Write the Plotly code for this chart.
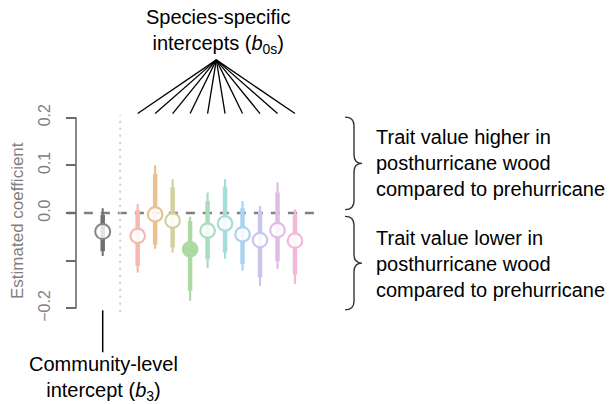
import plotly.graph_objects as go

# Posterior summaries: community-level intercept and ten species-specific intercepts
community_mid = -0.039
community_50 = (-0.080, -0.004)
community_95 = (-0.090, 0.010)

species_colors = ["#F6B8AF", "#E9C38F", "#D3D19F", "#AFD9A4", "#A9DDBD",
                  "#A6DDDB", "#A9D3F0", "#C9C6EB", "#E0BDE4", "#F3B8D5"]
species_mid = [-0.048, -0.003, -0.016, -0.076, -0.037, -0.022, -0.045, -0.057, -0.036, -0.058]
species_lo50 = [-0.111, -0.066, -0.072, -0.163, -0.097, -0.083, -0.107, -0.135, -0.101, -0.129]
species_hi50 = [0.006, 0.082, 0.054, -0.017, 0.025, 0.054, 0.010, 0.003, 0.043, -0.004]
species_lo95 = [-0.125, -0.075, -0.083, -0.184, -0.115, -0.096, -0.121, -0.153, -0.117, -0.149]
species_hi95 = [0.019, 0.100, 0.071, -0.008, 0.043, 0.071, 0.025, 0.015, 0.064, 0.008]
species_filled = [False, False, False, True, False, False, False, False, False, False]

tick_vals = [-0.2, -0.1, 0.0, 0.1, 0.2]
tick_text = ["\u22120.2", "", "0.0", "0.1", "0.2"]

W, H = 612, 404
FONT = "Liberation Sans, Arial, sans-serif"
GREY = "#808080"

community_x = 1
divider_x = 2
species_x = list(range(3, 3 + len(species_mid)))


def px(xp):
    return xp / W


def py(yp):
    return 1 - yp / H


fig = go.Figure()

# zero reference line and divider between community and species estimates
fig.add_shape(type="line", xref="x", yref="y", x0=-1.05, x1=13.3, y0=0, y1=0,
              line=dict(color=GREY, width=2.5, dash="9px,8px"), layer="below")
fig.add_shape(type="line", xref="x", yref="y", x0=divider_x, x1=divider_x, y0=-0.207, y1=0.206,
              line=dict(color="#cccccc", width=2, dash="2px,5px"), layer="below")

# community-level intercept
fig.add_trace(go.Scatter(x=[community_x, community_x], y=list(community_95), mode="lines",
                         line=dict(color="#6f6f6f", width=2), showlegend=False, hoverinfo="skip"))
fig.add_trace(go.Scatter(x=[community_x, community_x], y=list(community_50), mode="lines",
                         line=dict(color="#6f6f6f", width=4.5), showlegend=False, hoverinfo="skip"))
fig.add_trace(go.Scatter(x=[community_x], y=[community_mid], mode="markers",
                         marker=dict(size=15, color="rgba(255,255,255,0.8)",
                                     line=dict(color="#858585", width=2)),
                         showlegend=False))

# species-specific intercepts
for i, xv in enumerate(species_x):
    c = species_colors[i]
    fig.add_trace(go.Scatter(x=[xv, xv], y=[species_lo95[i], species_hi95[i]], mode="lines",
                             line=dict(color=c, width=2.2), showlegend=False, hoverinfo="skip"))
    fig.add_trace(go.Scatter(x=[xv, xv], y=[species_lo50[i], species_hi50[i]], mode="lines",
                             line=dict(color=c, width=4.5), showlegend=False, hoverinfo="skip"))
    fill = c if species_filled[i] else "rgba(255,255,255,0.85)"
    fig.add_trace(go.Scatter(x=[xv], y=[species_mid[i]], mode="markers",
                             marker=dict(size=14.5, color=fill, line=dict(color=c, width=2.2)),
                             showlegend=False))

# pointer lines from the species label down to each species
apex_x = (species_x[0] + species_x[-1]) / 2
for xv in species_x:
    fig.add_shape(type="line", xref="x", yref="y", x0=apex_x, y0=0.321, x1=xv, y1=0.2085,
                  line=dict(color="black", width=1.3))
# pointer line from the community label up to the community estimate
fig.add_shape(type="line", xref="x", yref="y", x0=community_x, x1=community_x, y0=-0.204, y1=-0.292,
              line=dict(color="black", width=1.5))

# y axis line (spans only the tick range)
axis_pos = px(76)
fig.add_shape(type="line", xref="paper", yref="y", x0=axis_pos, x1=axis_pos,
              y0=tick_vals[0], y1=tick_vals[-1], line=dict(color="#6a6a6a", width=1.6))


# curly braces on the right
def brace(y_top, y_bot):
    xl, xm, xt = px(345), px(354), px(362)
    ym = (y_top + y_bot) / 2
    r = 0.018
    return (f"M {xl},{y_top} Q {xm},{y_top} {xm},{y_top - r} L {xm},{ym + r} "
            f"Q {xm},{ym} {xt},{ym} Q {xm},{ym} {xm},{ym - r} L {xm},{y_bot + r} "
            f"Q {xm},{y_bot} {xl},{y_bot}")


for yt, yb in [(0.201, 0.007), (-0.007, -0.203)]:
    fig.add_shape(type="path", xref="paper", yref="y", path=brace(yt, yb),
                  line=dict(color="#333333", width=1.4))

txt = dict(family=FONT, size=20, color="black")
fig.add_annotation(xref="paper", yref="paper", x=px(218), y=py(32),
                   text="Species-specific<br>intercepts (<i>b</i><sub>0s</sub>)",
                   showarrow=False, font=txt, align="center", xanchor="center", yanchor="middle")
fig.add_annotation(xref="paper", yref="paper", x=px(103), y=py(378),
                   text="Community-level<br>intercept (<i>b</i><sub>3</sub>)",
                   showarrow=False, font=txt, align="center", xanchor="center", yanchor="middle")
fig.add_annotation(xref="paper", yref="paper", x=px(374), y=py(163),
                   text="Trait value higher in<br>posthurricane wood<br>compared to prehurricane",
                   showarrow=False, font=txt, align="left", xanchor="left", yanchor="middle")
fig.add_annotation(xref="paper", yref="paper", x=px(374), y=py(264),
                   text="Trait value lower in<br>posthurricane wood<br>compared to prehurricane",
                   showarrow=False, font=txt, align="left", xanchor="left", yanchor="middle")
fig.add_annotation(xref="paper", yref="paper", x=px(17), y=py(221),
                   text="Estimated coefficient", textangle=-90,
                   showarrow=False, font=dict(family=FONT, size=17, color=GREY),
                   xanchor="center", yanchor="middle")

# axis ranges chosen so that unit spacing is ~17.5 px in x and 0.1 is ~47.7 px in y
x_unit = 17.48
x_left = community_x - 102.7 / x_unit
x_right = x_left + W / x_unit
y_unit = 477.0
y_top = 213.0 / y_unit
y_bot = y_top - H / y_unit

fig.update_layout(
    width=W, height=H,
    margin=dict(l=0, r=0, t=0, b=0),
    paper_bgcolor="white", plot_bgcolor="white",
    xaxis=dict(range=[x_left, x_right], visible=False, domain=[0, 1]),
    yaxis=dict(range=[y_bot, y_top], domain=[0, 1], anchor="free", position=axis_pos,
               side="left", showgrid=False, zeroline=False, showline=False,
               ticks="outside", ticklen=10, tickwidth=1.6, tickcolor="#6a6a6a",
               tickvals=tick_vals, ticktext=tick_text, tickangle=-90,
               ticklabelstandoff=10,
               tickfont=dict(family=FONT, size=16, color=GREY)),
    showlegend=False,
)

fig.write_html("out.html")
